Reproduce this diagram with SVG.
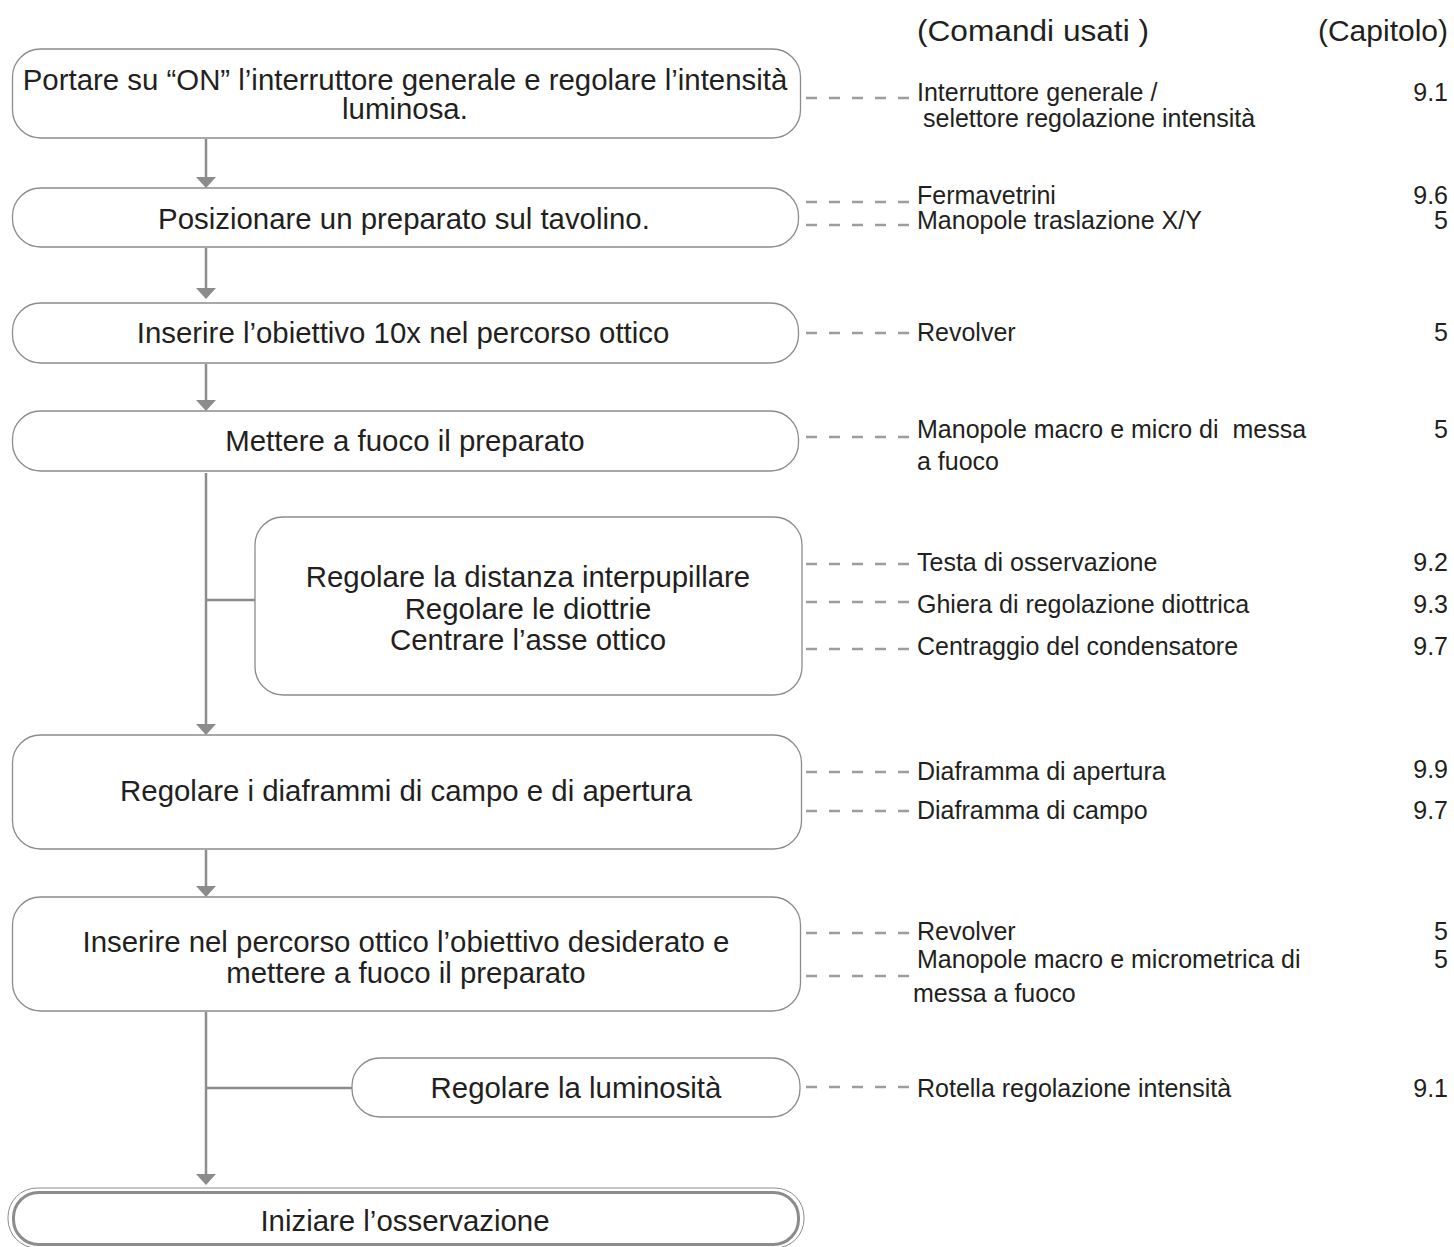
<svg xmlns="http://www.w3.org/2000/svg" width="1454" height="1247" viewBox="0 0 1454 1247">
<style>
.box{fill:#fff;stroke:#8c8c8c;stroke-width:1.3}
.t{font-family:"Liberation Sans",Arial,sans-serif;fill:#231f20}
.bt{font-size:29.4px;text-anchor:middle}
.lb{font-size:25px}
.num{font-size:25px;text-anchor:end}
.hd{font-size:30px}
.flow{stroke:#8c8c8c;stroke-width:2.5;fill:none}
.dash{stroke:#9d9d9d;stroke-width:2.5;stroke-dasharray:11 12;fill:none}
</style>
<defs>
<marker id="ah" markerUnits="userSpaceOnUse" markerWidth="11" markerHeight="20" viewBox="0 0 11 20" refX="0" refY="10" orient="auto">
<path d="M0,0 L11,10 L0,20 Z" fill="#8c8c8c"/>
</marker>
</defs>
<rect width="1454" height="1247" fill="#fff"/>

<g id="headers">
<text class="t hd" x="917" y="41" textLength="232" lengthAdjust="spacingAndGlyphs">(Comandi usati )</text>
<text class="t hd" x="1448" y="41" text-anchor="end">(Capitolo)</text>
</g>

<g id="connectors">
<path class="flow" d="M206,139 V177" marker-end="url(#ah)"/>
<path class="flow" d="M206,248 V288" marker-end="url(#ah)"/>
<path class="flow" d="M206,364 V400" marker-end="url(#ah)"/>
<path class="flow" d="M206,473 V724" marker-end="url(#ah)"/>
<path class="flow" d="M206,600 H255"/>
<path class="flow" d="M206,850 V886" marker-end="url(#ah)"/>
<path class="flow" d="M206,1012 V1174" marker-end="url(#ah)"/>
<path class="flow" d="M206,1088 H352"/>
<path class="dash" d="M806,98 H916"/>
<path class="dash" d="M806,202 H916"/>
<path class="dash" d="M806,225 H916"/>
<path class="dash" d="M806,333 H916"/>
<path class="dash" d="M806,437 H916"/>
<path class="dash" d="M806,564 H916"/>
<path class="dash" d="M806,602 H916"/>
<path class="dash" d="M806,649 H916"/>
<path class="dash" d="M806,772 H916"/>
<path class="dash" d="M806,811 H916"/>
<path class="dash" d="M806,933 H916"/>
<path class="dash" d="M806,976 H916"/>
<path class="dash" d="M806,1087 H916"/>
</g>

<g id="n1">
<rect class="box" x="12.5" y="49" width="788" height="89" rx="28"/>
<text class="t bt" x="405" y="90">Portare su “ON” l’interruttore generale e regolare l’intensità</text>
<text class="t bt" x="405" y="119">luminosa.</text>
</g>
<g id="n2">
<rect class="box" x="12.5" y="188" width="786" height="59" rx="28"/>
<text class="t bt" x="404" y="229">Posizionare un preparato sul tavolino.</text>
</g>
<g id="n3">
<rect class="box" x="12.5" y="303" width="786" height="60" rx="28"/>
<text class="t bt" x="403" y="343">Inserire l’obiettivo 10x nel percorso ottico</text>
</g>
<g id="n4">
<rect class="box" x="12.5" y="411" width="786" height="60" rx="28"/>
<text class="t bt" x="405" y="451">Mettere a fuoco il preparato</text>
</g>
<g id="n5">
<rect class="box" x="255" y="517" width="547" height="178" rx="28"/>
<text class="t bt" x="528" y="587">Regolare la distanza interpupillare</text>
<text class="t bt" x="528" y="619">Regolare le diottrie</text>
<text class="t bt" x="528" y="650">Centrare l’asse ottico</text>
</g>
<g id="n6">
<rect class="box" x="12.5" y="735" width="789" height="114" rx="28"/>
<text class="t bt" x="406" y="801">Regolare i diaframmi di campo e di apertura</text>
</g>
<g id="n7">
<rect class="box" x="12.5" y="897" width="788" height="114" rx="28"/>
<text class="t bt" x="406" y="952">Inserire nel percorso ottico l’obiettivo desiderato e</text>
<text class="t bt" x="406" y="983">mettere a fuoco il preparato</text>
</g>
<g id="n8">
<rect class="box" x="352" y="1058" width="448" height="59" rx="28"/>
<text class="t bt" x="576" y="1098">Regolare la luminosità</text>
</g>
<g id="n9">
<rect x="8" y="1188" width="796" height="60" rx="29" fill="#fff" stroke="#8c8c8c" stroke-width="1"/>
<rect x="13.5" y="1192.5" width="785" height="52" rx="25" fill="none" stroke="#8c8c8c" stroke-width="3"/>
<text class="t bt" x="405" y="1231">Iniziare l’osservazione</text>
</g>

<g id="labels">
<text class="t lb" x="917" y="101">Interruttore generale /</text>
<text class="t lb" x="923" y="127">selettore regolazione intensità</text>
<text class="t num" x="1448" y="101">9.1</text>
<text class="t lb" x="917" y="204">Fermavetrini</text>
<text class="t lb" x="917" y="229">Manopole traslazione X/Y</text>
<text class="t num" x="1448" y="204">9.6</text>
<text class="t num" x="1448" y="229">5</text>
<text class="t lb" x="917" y="341">Revolver</text>
<text class="t num" x="1448" y="341">5</text>
<text class="t lb" x="917" y="438" xml:space="preserve">Manopole macro e micro di  messa</text>
<text class="t lb" x="917" y="470">a fuoco</text>
<text class="t num" x="1448" y="438">5</text>
<text class="t lb" x="917" y="571">Testa di osservazione</text>
<text class="t num" x="1448" y="571">9.2</text>
<text class="t lb" x="917" y="613">Ghiera di regolazione diottrica</text>
<text class="t num" x="1448" y="613">9.3</text>
<text class="t lb" x="917" y="655">Centraggio del condensatore</text>
<text class="t num" x="1448" y="655">9.7</text>
<text class="t lb" x="917" y="780">Diaframma di apertura</text>
<text class="t num" x="1448" y="778">9.9</text>
<text class="t lb" x="917" y="819">Diaframma di campo</text>
<text class="t num" x="1448" y="819">9.7</text>
<text class="t lb" x="917" y="940">Revolver</text>
<text class="t num" x="1448" y="940">5</text>
<text class="t lb" x="917" y="968">Manopole macro e micrometrica di</text>
<text class="t num" x="1448" y="968">5</text>
<text class="t lb" x="913" y="1002">messa a fuoco</text>
<text class="t lb" x="917" y="1097">Rotella regolazione intensità</text>
<text class="t num" x="1448" y="1097">9.1</text>
</g>
</svg>
